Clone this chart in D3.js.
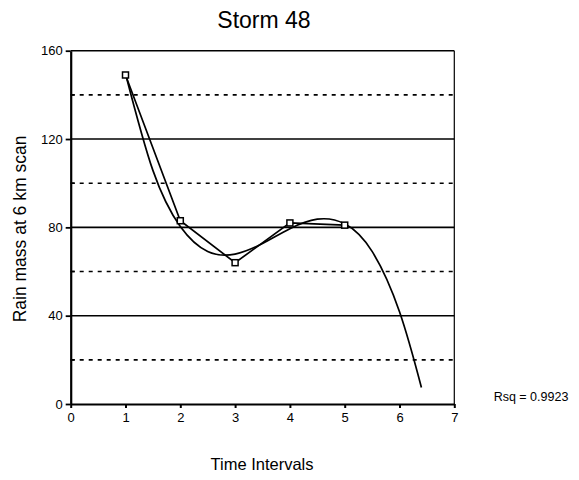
<!DOCTYPE html>
<html><head><meta charset="utf-8">
<script src="https://cdn.jsdelivr.net/npm/d3@7"></script>
<style>body{margin:0;background:#fff}svg{display:block}text{font-family:"Liberation Sans",Arial,sans-serif;fill:#000}</style>
</head><body>
<script>
const timeIntervals = [1, 2, 3, 4, 5];
const rainMass = [149, 83, 64, 82, 81];
const trendX = [1, 1.5, 2, 2.5, 3, 3.5, 4, 4.5, 5, 5.5, 6, 6.4];
const trendY = [149.6, 105.8, 80.4, 69.1, 67.9, 72.7, 79.4, 83.7, 81.6, 69.1, 41.8, 7.5];
const xTicks = [0, 1, 2, 3, 4, 5, 6, 7];
const yMajor = [0, 40, 80, 120, 160];
const yMinor = [20, 60, 100, 140];
const titleText = "Storm 48";
const xLabel = "Time Intervals";
const yLabel = "Rain mass at 6 km scan";
const rsqText = "Rsq = 0.9923";

const W = 579, H = 480;
const svg = d3.select("body").append("svg").attr("width", W).attr("height", H);
const x = d3.scaleLinear().domain([0, 7]).range([70.7, 454.3]);
const y = d3.scaleLinear().domain([0, 160]).range([404, 50.7]);

// grid
svg.append("g").selectAll("line").data(yMajor.filter(d => d > 0)).join("line")
  .attr("x1", x(0)).attr("x2", x(7)).attr("y1", d => y(d)).attr("y2", d => y(d))
  .attr("stroke", "#000").attr("stroke-width", 1.6);
svg.append("g").selectAll("line").data(yMinor).join("line")
  .attr("x1", x(0)).attr("x2", x(7)).attr("y1", d => y(d)).attr("y2", d => y(d))
  .attr("stroke", "#000").attr("stroke-width", 1.6).attr("stroke-dasharray", "4,5");
// right border
svg.append("line").attr("x1", x(7)).attr("x2", x(7)).attr("y1", y(160)).attr("y2", y(0))
  .attr("stroke", "#000").attr("stroke-width", 1.2);

// y axis
const ya = svg.append("g").attr("transform", `translate(${x(0)},0)`)
  .call(d3.axisLeft(y).tickValues(yMajor).tickSize(5).tickSizeOuter(0).tickPadding(3));
ya.select(".domain").attr("stroke-width", 2.2);
ya.selectAll(".tick line").attr("stroke-width", 1.8);
ya.selectAll(".tick text").style("font-size", "13px").style("font-family", '"Liberation Sans",Arial,sans-serif');
svg.append("g").selectAll("line").data(yMinor).join("line")
  .attr("x1", x(0)).attr("x2", x(0) + 4).attr("y1", d => y(d)).attr("y2", d => y(d))
  .attr("stroke", "#000").attr("stroke-width", 1.6);

// x axis
const xa = svg.append("g").attr("transform", `translate(0,${y(0)})`)
  .call(d3.axisBottom(x).tickValues(xTicks).tickFormat(d3.format("d")).tickSize(4).tickSizeOuter(0).tickPadding(5));
xa.select(".domain").attr("stroke-width", 2.2);
xa.selectAll(".tick line").attr("stroke-width", 2);
xa.selectAll(".tick text").style("font-size", "13px").style("font-family", '"Liberation Sans",Arial,sans-serif');

// trend line
const trend = trendX.map((d, i) => [d, trendY[i]]);
svg.append("path").datum(trend)
  .attr("d", d3.line().x(d => x(d[0])).y(d => y(d[1])).curve(d3.curveNatural))
  .attr("fill", "none").attr("stroke", "#000").attr("stroke-width", 1.7);

// data line
const pts = timeIntervals.map((d, i) => [d, rainMass[i]]);
svg.append("path").datum(pts)
  .attr("d", d3.line().x(d => x(d[0])).y(d => y(d[1])))
  .attr("fill", "none").attr("stroke", "#000").attr("stroke-width", 1.7);
svg.append("g").selectAll("rect").data(pts).join("rect")
  .attr("x", d => x(d[0]) - 3).attr("y", d => y(d[1]) - 3).attr("width", 6).attr("height", 6)
  .attr("fill", "#fff").attr("stroke", "#000").attr("stroke-width", 1.5);

// texts
svg.append("text").attr("x", 264).attr("y", 28).attr("text-anchor", "middle")
  .style("font-size", "23px").text(titleText);
svg.append("text").attr("x", 262).attr("y", 470).attr("text-anchor", "middle")
  .style("font-size", "16.5px").text(xLabel);
svg.append("text").attr("transform", "translate(26,229) rotate(-90)").attr("text-anchor", "middle")
  .style("font-size", "17.5px").text(yLabel);
svg.append("text").attr("x", 531).attr("y", 401).attr("text-anchor", "middle")
  .style("font-size", "12.5px").text(rsqText);
</script>
</body></html>
